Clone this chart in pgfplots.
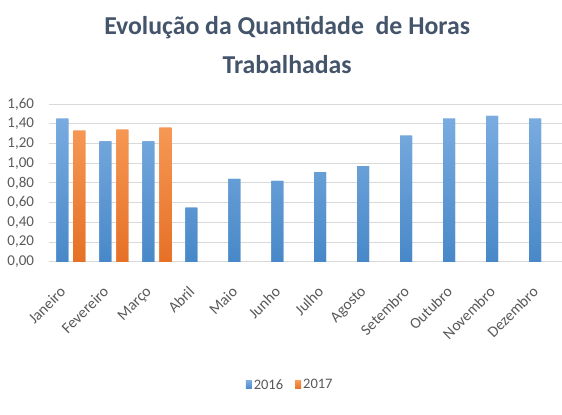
\documentclass[border=0pt]{standalone}
\usepackage{pgfplots}
\pgfplotsset{compat=1.18}
\usepackage{fontspec}
\setmainfont{Carlito}
\definecolor{bluetop}{RGB}{122,172,224}
\definecolor{bluebot}{RGB}{72,136,200}
\definecolor{orgtop}{RGB}{246,152,84}
\definecolor{orgbot}{RGB}{230,112,38}
\definecolor{titlec}{RGB}{68,84,106}
\definecolor{tickc}{RGB}{89,89,89}
\begin{document}
\begin{tikzpicture}
\begin{axis}[
  scale only axis,
  width=512.5pt, height=158pt,
  xmin=-0.5, xmax=11.42,
  ymin=0, ymax=1.6,
  ytick={0,0.2,...,1.6},
  xtick={0,...,11},
  xticklabels={Janeiro,Fevereiro,Março,Abril,Maio,Junho,Julho,Agosto,Setembro,Outubro,Novembro,Dezembro},
  x tick label style={rotate=45, anchor=north east, font=\fontsize{15.5}{16}\selectfont, text=tickc, inner sep=1pt, yshift=-7pt, xshift=-24pt},
  y tick label style={font=\fontsize{15}{18}\selectfont, text=tickc, xshift=-12pt, /pgf/number format/.cd, fixed, fixed zerofill, precision=2, use comma},
  /pgf/number format/assume math mode=true,
  major tick length=0pt,
  ymajorgrids, grid style={draw=black!15, line width=0.8pt},
  axis line style={draw=none},
  axis x line*=bottom,
  axis y line*=left,
  clip=false,
  ybar, bar width=12pt,
  legend style={draw=none, at={(0.47,-0.78)}, anchor=center, legend columns=2, font=\fontsize{14.5}{16}\selectfont, text=tickc, /tikz/every even column/.append style={column sep=10pt}},
  legend image code/.code={\fill[#1] (0pt,-4pt) rectangle (6pt,4pt);},
]
\draw[black!15, line width=0.8pt] (rel axis cs:0,0) -- (rel axis cs:1,0);
\addplot[bar shift=-8.5pt, draw=none, fill=bluebot, top color=bluetop, bottom color=bluebot] coordinates {
(0,1.45) (1,1.22) (2,1.22) (3,0.55) (4,0.84) (5,0.82) (6,0.91) (7,0.97) (8,1.28) (9,1.45) (10,1.48) (11,1.45)};
\addplot[bar shift=8.5pt, draw=none, fill=orgbot, top color=orgtop, bottom color=orgbot] coordinates {
(0,1.33) (1,1.34) (2,1.36)};
\legend{2016,2017}
\node[align=center, text=titlec, font=\bfseries\fontsize{25.8}{40}\selectfont] at (rel axis cs:0.464,1.373) {Evolução da Quantidade\ \ de Horas\\Trabalhadas};
\path[use as bounding box] (rel axis cs:0,0) ++(-49.5pt,-153pt) rectangle (rel axis cs:1,1) ++(0pt, 104pt);
\end{axis}
\end{tikzpicture}
\end{document}
